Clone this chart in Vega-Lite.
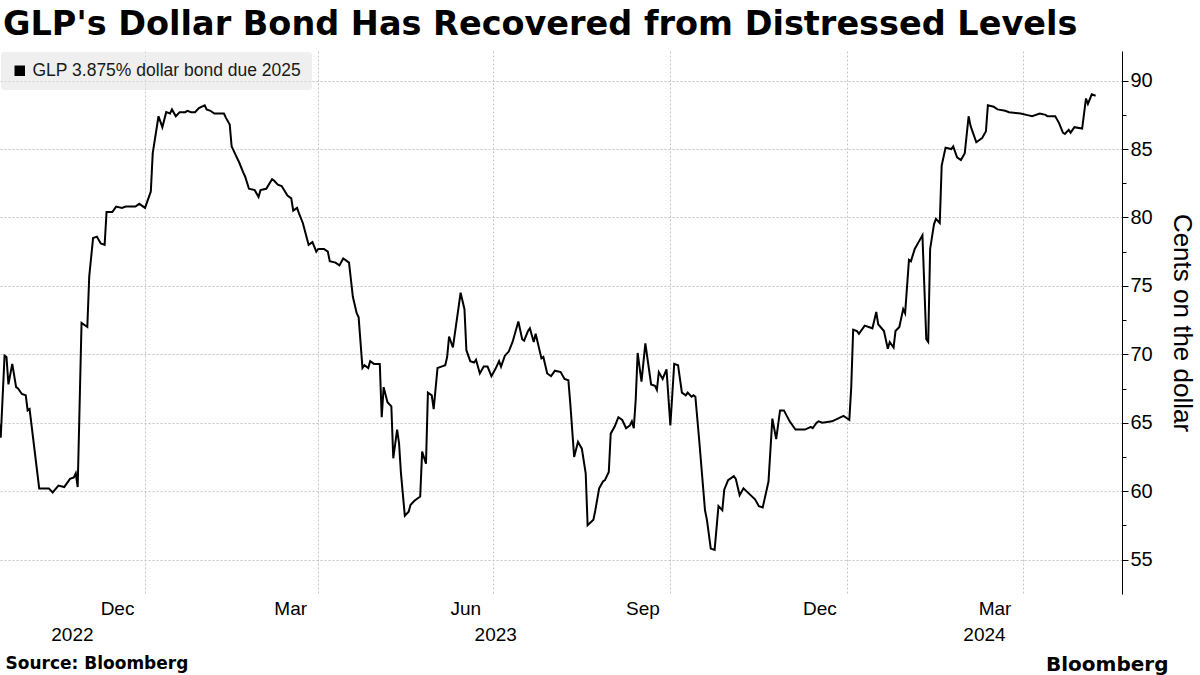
{
  "$schema": "https://vega.github.io/schema/vega-lite/v6.json",
  "width": 1122,
  "height": 543,
  "autosize": {"type": "none"},
  "padding": {"left": 0, "top": 51, "right": 78, "bottom": 81},
  "background": "white",
  "title": {
    "text": "GLP's Dollar Bond Has Recovered from Distressed Levels",
    "anchor": "start",
    "frame": "group",
    "font": "DejaVu Sans",
    "fontSize": 33.5,
    "fontWeight": "bold",
    "color": "#000000",
    "baseline": "alphabetic",
    "offset": 15,
    "dx": 3,
    "dy": 32
  },
  "config": {"view": {"stroke": null}, "font": "Liberation Sans"},
  "datasets": {
    "bond": [
      {"date": "2022-10-17", "price": 65.1}, {"date": "2022-10-18", "price": 63.9}, {"date": "2022-10-20", "price": 69.9}, {"date": "2022-10-21", "price": 69.8},
      {"date": "2022-10-22", "price": 67.8}, {"date": "2022-10-24", "price": 69.3}, {"date": "2022-10-26", "price": 67.6}, {"date": "2022-10-27", "price": 67.5},
      {"date": "2022-10-29", "price": 67.1}, {"date": "2022-10-31", "price": 67.0}, {"date": "2022-11-01", "price": 65.9}, {"date": "2022-11-02", "price": 66.0},
      {"date": "2022-11-07", "price": 60.2}, {"date": "2022-11-12", "price": 60.2}, {"date": "2022-11-14", "price": 59.9}, {"date": "2022-11-17", "price": 60.4},
      {"date": "2022-11-20", "price": 60.3}, {"date": "2022-11-23", "price": 60.9}, {"date": "2022-11-25", "price": 61.0}, {"date": "2022-11-26", "price": 61.3},
      {"date": "2022-11-27", "price": 60.3}, {"date": "2022-11-29", "price": 72.3}, {"date": "2022-12-02", "price": 72.0}, {"date": "2022-12-03", "price": 75.7},
      {"date": "2022-12-05", "price": 78.5}, {"date": "2022-12-07", "price": 78.6}, {"date": "2022-12-09", "price": 78.1}, {"date": "2022-12-11", "price": 78.0},
      {"date": "2022-12-12", "price": 80.4}, {"date": "2022-12-15", "price": 80.4}, {"date": "2022-12-17", "price": 80.8}, {"date": "2022-12-20", "price": 80.7},
      {"date": "2022-12-22", "price": 80.8}, {"date": "2022-12-27", "price": 80.8}, {"date": "2022-12-29", "price": 81.0}, {"date": "2023-01-01", "price": 80.7},
      {"date": "2023-01-04", "price": 81.9}, {"date": "2023-01-05", "price": 84.7}, {"date": "2023-01-08", "price": 87.4}, {"date": "2023-01-10", "price": 86.6},
      {"date": "2023-01-12", "price": 87.7}, {"date": "2023-01-14", "price": 87.6}, {"date": "2023-01-15", "price": 87.9}, {"date": "2023-01-17", "price": 87.4},
      {"date": "2023-01-19", "price": 87.7}, {"date": "2023-01-22", "price": 87.7}, {"date": "2023-01-23", "price": 87.8}, {"date": "2023-01-25", "price": 87.7},
      {"date": "2023-01-27", "price": 87.7}, {"date": "2023-01-29", "price": 88.0}, {"date": "2023-02-01", "price": 88.2}, {"date": "2023-02-02", "price": 87.9},
      {"date": "2023-02-04", "price": 87.8}, {"date": "2023-02-06", "price": 87.6}, {"date": "2023-02-11", "price": 87.6}, {"date": "2023-02-12", "price": 87.3},
      {"date": "2023-02-14", "price": 86.8}, {"date": "2023-02-15", "price": 85.2}, {"date": "2023-02-17", "price": 84.6}, {"date": "2023-02-19", "price": 84.0},
      {"date": "2023-02-21", "price": 83.3}, {"date": "2023-02-22", "price": 83.0}, {"date": "2023-02-24", "price": 82.1}, {"date": "2023-02-27", "price": 82.0},
      {"date": "2023-03-01", "price": 81.5}, {"date": "2023-03-02", "price": 82.0}, {"date": "2023-03-05", "price": 82.1}, {"date": "2023-03-08", "price": 82.8},
      {"date": "2023-03-09", "price": 82.7}, {"date": "2023-03-11", "price": 82.4}, {"date": "2023-03-13", "price": 82.3}, {"date": "2023-03-16", "price": 81.6},
      {"date": "2023-03-18", "price": 81.4}, {"date": "2023-03-19", "price": 80.5}, {"date": "2023-03-21", "price": 80.7}, {"date": "2023-03-22", "price": 80.3},
      {"date": "2023-03-24", "price": 79.6}, {"date": "2023-03-27", "price": 78.0}, {"date": "2023-03-29", "price": 78.2}, {"date": "2023-03-31", "price": 77.5},
      {"date": "2023-04-01", "price": 77.7}, {"date": "2023-04-04", "price": 77.7}, {"date": "2023-04-06", "price": 77.5}, {"date": "2023-04-07", "price": 76.8},
      {"date": "2023-04-10", "price": 76.7}, {"date": "2023-04-12", "price": 76.5}, {"date": "2023-04-14", "price": 77.0}, {"date": "2023-04-17", "price": 76.7},
      {"date": "2023-04-19", "price": 74.2}, {"date": "2023-04-21", "price": 73.0}, {"date": "2023-04-22", "price": 72.7}, {"date": "2023-04-24", "price": 69.0},
      {"date": "2023-04-25", "price": 69.2}, {"date": "2023-04-27", "price": 69.0}, {"date": "2023-04-28", "price": 69.5}, {"date": "2023-04-30", "price": 69.3},
      {"date": "2023-05-03", "price": 69.3}, {"date": "2023-05-04", "price": 65.4}, {"date": "2023-05-05", "price": 67.6}, {"date": "2023-05-07", "price": 66.5},
      {"date": "2023-05-09", "price": 66.2}, {"date": "2023-05-10", "price": 62.4}, {"date": "2023-05-12", "price": 64.5}, {"date": "2023-05-13", "price": 63.5},
      {"date": "2023-05-14", "price": 61.3}, {"date": "2023-05-16", "price": 58.2}, {"date": "2023-05-18", "price": 58.5}, {"date": "2023-05-19", "price": 59.0},
      {"date": "2023-05-21", "price": 59.3}, {"date": "2023-05-24", "price": 59.6}, {"date": "2023-05-25", "price": 62.9}, {"date": "2023-05-27", "price": 62.0},
      {"date": "2023-05-28", "price": 67.2}, {"date": "2023-05-30", "price": 67.0}, {"date": "2023-05-31", "price": 66.0}, {"date": "2023-06-02", "price": 69.0},
      {"date": "2023-06-04", "price": 69.1}, {"date": "2023-06-06", "price": 69.2}, {"date": "2023-06-07", "price": 69.8}, {"date": "2023-06-08", "price": 71.3},
      {"date": "2023-06-10", "price": 70.5}, {"date": "2023-06-12", "price": 72.5}, {"date": "2023-06-14", "price": 74.5}, {"date": "2023-06-16", "price": 73.3},
      {"date": "2023-06-17", "price": 70.3}, {"date": "2023-06-19", "price": 69.5}, {"date": "2023-06-21", "price": 69.4}, {"date": "2023-06-22", "price": 69.6},
      {"date": "2023-06-24", "price": 68.6}, {"date": "2023-06-26", "price": 69.1}, {"date": "2023-06-28", "price": 69.1}, {"date": "2023-06-30", "price": 68.4},
      {"date": "2023-07-02", "price": 68.9}, {"date": "2023-07-04", "price": 69.5}, {"date": "2023-07-05", "price": 69.1}, {"date": "2023-07-07", "price": 69.9},
      {"date": "2023-07-09", "price": 70.2}, {"date": "2023-07-11", "price": 70.9}, {"date": "2023-07-14", "price": 72.4}, {"date": "2023-07-16", "price": 71.1},
      {"date": "2023-07-17", "price": 71.0}, {"date": "2023-07-19", "price": 71.7}, {"date": "2023-07-20", "price": 71.9}, {"date": "2023-07-22", "price": 70.9},
      {"date": "2023-07-23", "price": 71.5}, {"date": "2023-07-26", "price": 69.7}, {"date": "2023-07-27", "price": 69.8}, {"date": "2023-07-29", "price": 68.6},
      {"date": "2023-07-31", "price": 68.4}, {"date": "2023-08-02", "price": 68.8}, {"date": "2023-08-05", "price": 68.7}, {"date": "2023-08-07", "price": 68.2},
      {"date": "2023-08-09", "price": 68.1}, {"date": "2023-08-10", "price": 66.4}, {"date": "2023-08-12", "price": 62.5}, {"date": "2023-08-14", "price": 63.6},
      {"date": "2023-08-16", "price": 63.1}, {"date": "2023-08-18", "price": 61.3}, {"date": "2023-08-19", "price": 57.5}, {"date": "2023-08-22", "price": 57.9},
      {"date": "2023-08-23", "price": 58.6}, {"date": "2023-08-25", "price": 60.2}, {"date": "2023-08-27", "price": 60.7}, {"date": "2023-08-28", "price": 60.8},
      {"date": "2023-08-30", "price": 61.4}, {"date": "2023-08-31", "price": 64.2}, {"date": "2023-09-02", "price": 64.7}, {"date": "2023-09-04", "price": 65.4},
      {"date": "2023-09-06", "price": 65.2}, {"date": "2023-09-08", "price": 64.6}, {"date": "2023-09-10", "price": 64.8}, {"date": "2023-09-11", "price": 65.1},
      {"date": "2023-09-12", "price": 64.6}, {"date": "2023-09-13", "price": 66.7}, {"date": "2023-09-14", "price": 70.1}, {"date": "2023-09-16", "price": 68.0},
      {"date": "2023-09-18", "price": 70.8}, {"date": "2023-09-21", "price": 67.8}, {"date": "2023-09-23", "price": 67.7}, {"date": "2023-09-24", "price": 67.4},
      {"date": "2023-09-25", "price": 68.7}, {"date": "2023-09-27", "price": 68.2}, {"date": "2023-09-29", "price": 68.9}, {"date": "2023-10-01", "price": 64.8},
      {"date": "2023-10-03", "price": 69.3}, {"date": "2023-10-05", "price": 69.2}, {"date": "2023-10-07", "price": 67.2}, {"date": "2023-10-09", "price": 67.0},
      {"date": "2023-10-10", "price": 67.2}, {"date": "2023-10-12", "price": 66.9}, {"date": "2023-10-13", "price": 67.0}, {"date": "2023-10-14", "price": 66.9},
      {"date": "2023-10-16", "price": 63.7}, {"date": "2023-10-19", "price": 58.6}, {"date": "2023-10-20", "price": 57.9}, {"date": "2023-10-22", "price": 55.8},
      {"date": "2023-10-24", "price": 55.7}, {"date": "2023-10-26", "price": 58.9}, {"date": "2023-10-28", "price": 58.6}, {"date": "2023-10-29", "price": 60.1},
      {"date": "2023-10-31", "price": 60.8}, {"date": "2023-11-03", "price": 61.1}, {"date": "2023-11-04", "price": 60.9}, {"date": "2023-11-06", "price": 59.7},
      {"date": "2023-11-08", "price": 60.2}, {"date": "2023-11-11", "price": 59.8}, {"date": "2023-11-14", "price": 59.4}, {"date": "2023-11-16", "price": 58.9},
      {"date": "2023-11-18", "price": 58.8}, {"date": "2023-11-21", "price": 60.7}, {"date": "2023-11-23", "price": 65.3}, {"date": "2023-11-25", "price": 63.8},
      {"date": "2023-11-27", "price": 65.9}, {"date": "2023-11-29", "price": 65.9}, {"date": "2023-12-02", "price": 65.1}, {"date": "2023-12-05", "price": 64.5},
      {"date": "2023-12-10", "price": 64.5}, {"date": "2023-12-13", "price": 64.7}, {"date": "2023-12-14", "price": 64.6}, {"date": "2023-12-16", "price": 65.0},
      {"date": "2023-12-17", "price": 65.1}, {"date": "2023-12-19", "price": 65.0}, {"date": "2023-12-24", "price": 65.1}, {"date": "2023-12-27", "price": 65.3},
      {"date": "2023-12-30", "price": 65.5}, {"date": "2023-12-31", "price": 65.4}, {"date": "2024-01-02", "price": 65.2}, {"date": "2024-01-03", "price": 67.6},
      {"date": "2024-01-04", "price": 71.8}, {"date": "2024-01-06", "price": 71.7}, {"date": "2024-01-07", "price": 71.5}, {"date": "2024-01-10", "price": 72.1},
      {"date": "2024-01-14", "price": 71.9}, {"date": "2024-01-16", "price": 73.1}, {"date": "2024-01-17", "price": 72.2}, {"date": "2024-01-20", "price": 71.7},
      {"date": "2024-01-22", "price": 70.4}, {"date": "2024-01-23", "price": 70.9}, {"date": "2024-01-25", "price": 70.5}, {"date": "2024-01-26", "price": 71.7},
      {"date": "2024-01-28", "price": 72.0}, {"date": "2024-01-30", "price": 73.3}, {"date": "2024-01-31", "price": 73.0}, {"date": "2024-02-02", "price": 76.9},
      {"date": "2024-02-03", "price": 76.8}, {"date": "2024-02-05", "price": 77.7}, {"date": "2024-02-07", "price": 78.2}, {"date": "2024-02-09", "price": 78.7},
      {"date": "2024-02-11", "price": 71.1}, {"date": "2024-02-12", "price": 70.9}, {"date": "2024-02-13", "price": 77.7}, {"date": "2024-02-15", "price": 79.5},
      {"date": "2024-02-16", "price": 79.9}, {"date": "2024-02-18", "price": 79.6}, {"date": "2024-02-19", "price": 83.8}, {"date": "2024-02-21", "price": 85.1},
      {"date": "2024-02-24", "price": 85.0}, {"date": "2024-02-25", "price": 85.2}, {"date": "2024-02-27", "price": 84.4}, {"date": "2024-02-29", "price": 84.2},
      {"date": "2024-03-02", "price": 84.7}, {"date": "2024-03-04", "price": 87.4}, {"date": "2024-03-05", "price": 86.7}, {"date": "2024-03-06", "price": 86.3},
      {"date": "2024-03-08", "price": 85.5}, {"date": "2024-03-11", "price": 85.8}, {"date": "2024-03-13", "price": 86.3}, {"date": "2024-03-14", "price": 88.2},
      {"date": "2024-03-17", "price": 88.1}, {"date": "2024-03-19", "price": 87.9}, {"date": "2024-03-23", "price": 87.8}, {"date": "2024-03-25", "price": 87.7},
      {"date": "2024-03-31", "price": 87.6}, {"date": "2024-04-03", "price": 87.5}, {"date": "2024-04-06", "price": 87.4}, {"date": "2024-04-10", "price": 87.6},
      {"date": "2024-04-13", "price": 87.5}, {"date": "2024-04-14", "price": 87.4}, {"date": "2024-04-18", "price": 87.4}, {"date": "2024-04-20", "price": 86.9},
      {"date": "2024-04-22", "price": 86.2}, {"date": "2024-04-23", "price": 86.1}, {"date": "2024-04-25", "price": 86.4}, {"date": "2024-04-26", "price": 86.2},
      {"date": "2024-04-28", "price": 86.6}, {"date": "2024-05-02", "price": 86.5}, {"date": "2024-05-04", "price": 88.7}, {"date": "2024-05-05", "price": 88.3},
      {"date": "2024-05-07", "price": 89.0}, {"date": "2024-05-09", "price": 88.9}
    ],
    "years": [
      {"date": "2022-11-24", "year": "2022"},
      {"date": "2023-07-02", "year": "2023"},
      {"date": "2024-03-12", "year": "2024"}
    ]
  },
  "layer": [
    {
      "data": {"name": "bond"},
      "mark": {"type": "line", "strokeWidth": 2, "interpolate": "linear"},
      "transform": [{"calculate": "'GLP 3.875% dollar bond due 2025'", "as": "series"}],
      "encoding": {
        "x": {
          "field": "date",
          "type": "temporal",
          "scale": {
            "type": "utc",
            "domain": [
              {"year": 2022, "month": 10, "date": 17, "hours": 15, "utc": true},
              {"year": 2024, "month": 5, "date": 22, "hours": 17, "utc": true}
            ]
          },
          "axis": {
            "orient": "bottom",
            "values": [
              {"year": 2023, "month": 1, "date": 1, "utc": true},
              {"year": 2023, "month": 4, "date": 1, "utc": true},
              {"year": 2023, "month": 7, "date": 1, "utc": true},
              {"year": 2023, "month": 10, "date": 1, "utc": true},
              {"year": 2024, "month": 1, "date": 1, "utc": true},
              {"year": 2024, "month": 4, "date": 1, "utc": true}
            ],
            "labelExpr": "utcFormat(datum.value - 86400000, '%b')",
            "labelOffset": -28,
            "labelPadding": 5,
            "labelFont": "Liberation Sans",
            "labelFontSize": 19,
            "labelColor": "#000000",
            "labelOverlap": false,
            "labelFlush": false,
            "ticks": false,
            "domain": false,
            "grid": true,
            "gridColor": "#c4c4c4",
            "gridDash": [2, 2],
            "gridWidth": 1,
            "title": "Source: Bloomberg",
            "titleFont": "DejaVu Sans",
            "titleFontSize": 17,
            "titleFontWeight": "bold",
            "titleColor": "#000000",
            "titleAlign": "left",
            "titleBaseline": "alphabetic",
            "titleX": 5,
            "titleY": 74
          }
        },
        "y": {
          "field": "price",
          "type": "quantitative",
          "scale": {"domain": [52.48, 92.17], "zero": false, "nice": false},
          "axis": {
            "orient": "right",
            "values": [55, 57.5, 60, 62.5, 65, 67.5, 70, 72.5, 75, 77.5, 80, 82.5, 85, 87.5, 90],
            "labelExpr": "datum.value % 5 === 0 ? datum.value : ''",
            "tickSize": {"condition": {"test": "datum.value % 5 === 0", "value": 6}, "value": 4},
            "tickColor": "#000000",
            "domain": true,
            "domainColor": "#000000",
            "domainWidth": 1,
            "grid": true,
            "gridColor": "#c4c4c4",
            "gridDash": [2, 2],
            "gridOpacity": {"condition": {"test": "datum.value % 5 === 0", "value": 1}, "value": 0},
            "labelFont": "Liberation Sans",
            "labelFontSize": 20,
            "labelColor": "#000000",
            "labelPadding": 2,
            "title": "Cents on the dollar",
            "titleFont": "Liberation Sans",
            "titleFontSize": 26,
            "titleFontWeight": "normal",
            "titleColor": "#000000",
            "titlePadding": 16
          }
        },
        "color": {
          "field": "series",
          "type": "nominal",
          "scale": {"range": ["#000000"]},
          "legend": {
            "orient": "none",
            "legendX": 1,
            "legendY": 1,
            "title": null,
            "fillColor": "rgba(225,225,225,0.55)",
            "cornerRadius": 3,
            "padding": 10,
            "symbolType": "square",
            "symbolSize": 110,
            "symbolFillColor": "#000000",
            "symbolStrokeColor": "#000000",
            "symbolStrokeWidth": 0,
            "labelFont": "Liberation Sans",
            "labelFontSize": 17.5,
            "labelColor": "#1a1a1a",
            "labelOffset": 4,
            "labelLimit": 500
          }
        }
      }
    },
    {
      "data": {"name": "years"},
      "mark": {"type": "point", "opacity": 0},
      "encoding": {
        "x": {
          "field": "date",
          "type": "temporal",
          "axis": {
            "orient": "bottom",
            "values": [
              {"year": 2022, "month": 11, "date": 24, "utc": true},
              {"year": 2023, "month": 7, "date": 2, "utc": true},
              {"year": 2024, "month": 3, "date": 12, "utc": true}
            ],
            "labelExpr": "utcFormat(datum.value, '%Y')",
            "labelPadding": 31,
            "labelFont": "Liberation Sans",
            "labelFontSize": 19,
            "labelColor": "#000000",
            "labelOverlap": false,
            "labelFlush": false,
            "ticks": false,
            "domain": false,
            "grid": false,
            "title": "Bloomberg",
            "titleFont": "DejaVu Sans",
            "titleFontSize": 20,
            "titleFontWeight": "bold",
            "titleColor": "#000000",
            "titleAlign": "right",
            "titleBaseline": "alphabetic",
            "titleX": 1168,
            "titleY": 76
          }
        }
      }
    }
  ],
  "resolve": {"scale": {"x": "shared"}, "axis": {"x": "independent"}}
}
